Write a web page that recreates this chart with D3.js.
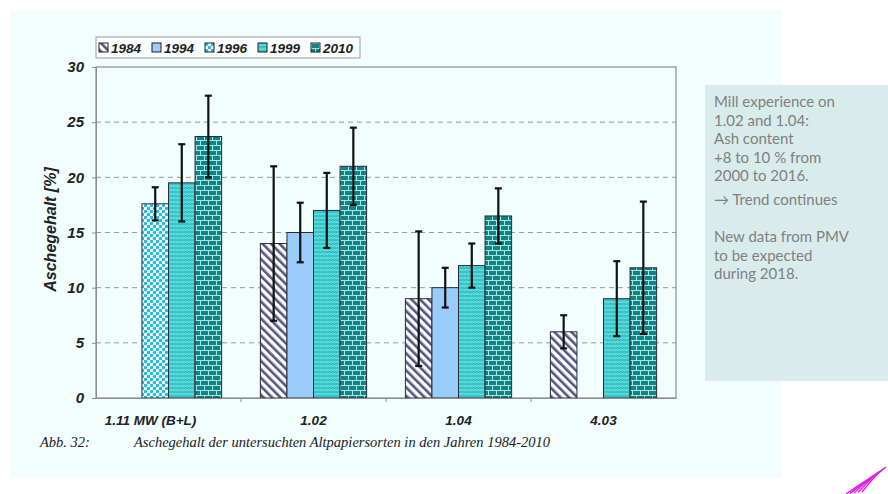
<!DOCTYPE html>
<html>
<head>
<meta charset="utf-8">
<script src="https://cdn.jsdelivr.net/npm/d3@7"></script>
<style>
  html, body { margin: 0; padding: 0; background: #ffffff; }
  svg { display: block; }
</style>
</head>
<body>
<div id="wrapper"></div>
<script>
// data
const categories = ["1.11 MW (B+L)", "1.02", "1.04", "4.03"];
const years = ["1984", "1994", "1996", "1999", "2010"];
// slot within each group (1994 and 1996 share the 2nd slot)
const yearSlot = { "1984": 0, "1994": 1, "1996": 1, "1999": 2, "2010": 3 };

const values1984 = [null, 14, 9, 6];
const values1994 = [null, 15, 10, null];
const values1996 = [17.6, null, null, null];
const values1999 = [19.5, 17, 12, 9];
const values2010 = [23.7, 21, 16.5, 11.8];

const err1984 = [null, 7, 6.1, 1.5];
const err1994 = [null, 2.7, 1.8, null];
const err1996 = [1.5, null, null, null];
const err1999 = [3.5, 3.4, 2, 3.4];
const err2010 = [3.7, 3.5, 2.5, 6];

const yTicks = [0, 5, 10, 15, 20, 25, 30];

const noteLines = [
  "Mill experience on", "1.02 and 1.04:", "Ash content", "+8 to 10 % from",
  "2000 to 2016.", "\u2192  Trend continues", "", "New data from PMV",
  "to be expected", "during 2018."
];

const seriesValues = [values1984, values1994, values1996, values1999, values2010];
const seriesErr = [err1984, err1994, err1996, err1999, err2010];

const dataset = [];
years.forEach((y, i) => {
  categories.forEach((c, j) => {
    if (seriesValues[i][j] != null) {
      dataset.push({ year: y, cat: c, value: seriesValues[i][j], err: seriesErr[i][j] });
    }
  });
});

const width = 888, height = 494;
const plot = { left: 96, right: 676, top: 67, bottom: 398 };
const arial = "'Liberation Sans', Arial, sans-serif";

const svg = d3.select("#wrapper").append("svg")
  .attr("width", width).attr("height", height);

// background panel
svg.append("rect").attr("x", 11).attr("y", 10).attr("width", 771).attr("height", 468)
  .attr("fill", "#f2fdfd");

// patterns
const defs = svg.append("defs");

const p84 = defs.append("pattern").attr("id", "p1984").attr("patternUnits", "userSpaceOnUse")
  .attr("width", 6).attr("height", 6).attr("patternTransform", "rotate(-45)");
p84.append("rect").attr("width", 6).attr("height", 6).attr("fill", "#ffffff");
p84.append("rect").attr("width", 2.6).attr("height", 6).attr("fill", "#545482");

const p94 = defs.append("pattern").attr("id", "p1994").attr("patternUnits", "userSpaceOnUse")
  .attr("width", 4).attr("height", 4);
p94.append("rect").attr("width", 4).attr("height", 4).attr("fill", "#99ccf8");

const p96 = defs.append("pattern").attr("id", "p1996").attr("patternUnits", "userSpaceOnUse")
  .attr("width", 6).attr("height", 6);
p96.append("rect").attr("width", 6).attr("height", 6).attr("fill", "#ffffff");
p96.append("circle").attr("cx", 1.5).attr("cy", 1.5).attr("r", 1.8).attr("fill", "#22bde0");
p96.append("circle").attr("cx", 4.5).attr("cy", 4.5).attr("r", 1.8).attr("fill", "#22bde0");

const p99 = defs.append("pattern").attr("id", "p1999").attr("patternUnits", "userSpaceOnUse")
  .attr("width", 6).attr("height", 4);
p99.append("rect").attr("width", 6).attr("height", 4).attr("fill", "#33c6c8");
p99.append("path").attr("d", "M0,3 L1.5,1 L3,3 L4.5,1 L6,3")
  .attr("fill", "none").attr("stroke", "#86e2e2").attr("stroke-width", 0.9);

const p10 = defs.append("pattern").attr("id", "p2010").attr("patternUnits", "userSpaceOnUse")
  .attr("width", 8).attr("height", 10);
p10.append("rect").attr("width", 8).attr("height", 10).attr("fill", "#0e8585");
p10.append("path")
  .attr("d", "M0,0.5 H8 M0,5.5 H8 M0.5,0.5 V5.5 M4.5,5.5 V10")
  .attr("fill", "none").attr("stroke", "#a8e6e6").attr("stroke-width", 1);

// scales
const xScale = d3.scaleBand().domain(categories).range([plot.left, plot.right]);
const slotScale = d3.scaleBand().domain([0, 1, 2, 3]).range([0, xScale.bandwidth()])
  .paddingInner(0).paddingOuter(0.73);
const yScale = d3.scaleLinear().domain([0, 30]).range([plot.bottom, plot.top]);

// gridlines
svg.append("g").selectAll("line").data(yTicks.filter(t => t > 0 && t < 30)).join("line")
  .attr("x1", plot.left).attr("x2", plot.right)
  .attr("y1", d => yScale(d)).attr("y2", d => yScale(d))
  .attr("stroke", "#9a9a9a").attr("stroke-dasharray", "5,4").attr("stroke-width", 1);

// frame
svg.append("rect").attr("x", plot.left).attr("y", plot.top)
  .attr("width", plot.right - plot.left).attr("height", plot.bottom - plot.top)
  .attr("fill", "none").attr("stroke", "#8c8c8c").attr("stroke-width", 1.2);

// bars
svg.append("g").selectAll("rect").data(dataset).join("rect")
  .attr("x", d => xScale(d.cat) + slotScale(yearSlot[d.year]))
  .attr("y", d => yScale(d.value))
  .attr("width", slotScale.bandwidth())
  .attr("height", d => plot.bottom - yScale(d.value))
  .attr("fill", d => `url(#p${d.year})`)
  .attr("stroke", "#2a2a3a").attr("stroke-width", 1);

// error bars
const errG = svg.append("g").selectAll("g").data(dataset).join("g")
  .attr("transform", d => `translate(${xScale(d.cat) + slotScale(yearSlot[d.year]) + slotScale.bandwidth() / 2},0)`)
  .attr("stroke", "#111").attr("stroke-width", 2.2);
errG.append("line")
  .attr("y1", d => yScale(d.value + d.err)).attr("y2", d => yScale(d.value - d.err));
errG.append("line").attr("x1", -3.5).attr("x2", 3.5)
  .attr("y1", d => yScale(d.value + d.err)).attr("y2", d => yScale(d.value + d.err));
errG.append("line").attr("x1", -3.5).attr("x2", 3.5)
  .attr("y1", d => yScale(d.value - d.err)).attr("y2", d => yScale(d.value - d.err));

// y axis
const yAxis = svg.append("g").attr("transform", `translate(${plot.left},0)`)
  .call(d3.axisLeft(yScale).tickValues(yTicks).tickSize(4).tickPadding(8));
yAxis.select(".domain").attr("stroke", "#8c8c8c");
yAxis.selectAll(".tick line").attr("stroke", "#8c8c8c");
yAxis.selectAll(".tick text")
  .style("font-family", arial)
  .style("font-size", "15px").style("font-weight", "bold").style("font-style", "italic")
  .attr("fill", "#222");

svg.append("text")
  .attr("transform", `translate(56,${(plot.top + plot.bottom) / 2 - 3}) rotate(-90)`)
  .attr("text-anchor", "middle")
  .style("font-family", arial)
  .style("font-size", "16px").style("font-weight", "bold").style("font-style", "italic")
  .attr("fill", "#222")
  .text("Aschegehalt [%]");

// x axis
const xAxis = svg.append("g").attr("transform", `translate(0,${plot.bottom})`)
  .call(d3.axisBottom(xScale).tickSize(0).tickPadding(17));
xAxis.select(".domain").attr("stroke", "#8c8c8c");
xAxis.selectAll(".tick text")
  .style("font-family", arial)
  .style("font-size", "13.5px").style("font-weight", "bold").style("font-style", "italic")
  .attr("fill", "#222")
  .attr("dx", (d, i) => (i === 0 ? -18 : 0));
// group separator ticks
svg.append("g").selectAll("line").data(categories.slice(1)).join("line")
  .attr("x1", d => xScale(d)).attr("x2", d => xScale(d))
  .attr("y1", plot.bottom).attr("y2", plot.bottom + 4)
  .attr("stroke", "#8c8c8c");

// legend
const legend = svg.append("g");
legend.append("rect").attr("x", 96).attr("y", 37).attr("width", 264).attr("height", 21)
  .attr("fill", "#fafefe").attr("stroke", "#9a9a9a");
const legItems = legend.selectAll("g").data(years).join("g")
  .attr("transform", (d, i) => `translate(${99 + i * 53},43)`);
legItems.append("rect").attr("width", 9).attr("height", 9)
  .attr("fill", d => `url(#p${d})`).attr("stroke", "#222").attr("stroke-width", 1);
legItems.append("text").attr("x", 12).attr("y", 9.5)
  .style("font-family", arial)
  .style("font-size", "13.5px").style("font-weight", "bold").style("font-style", "italic")
  .attr("fill", "#222")
  .text(d => d);

// caption
const caption = svg.append("g")
  .style("font-family", "'Liberation Serif', 'Times New Roman', serif")
  .style("font-size", "14.5px").style("font-style", "italic").attr("fill", "#222");
caption.append("text").attr("x", 40).attr("y", 447).text("Abb. 32:");
caption.append("text").attr("x", 134).attr("y", 447)
  .text("Aschegehalt der untersuchten Altpapiersorten in den Jahren 1984-2010");

// note box
svg.append("rect").attr("x", 705).attr("y", 85).attr("width", 183).attr("height", 296)
  .attr("fill", "#d9ecec");
svg.append("g").selectAll("text").data(noteLines).join("text")
  .attr("x", 714).attr("y", (d, i) => 107 + i * 18.6 + (i >= 5 ? 5 : 0))
  .style("font-family", "Lato, 'Open Sans', sans-serif")
  .style("font-size", "15px").attr("fill", "#808080")
  .text(d => d);

// logo swooshes bottom right
const logo = svg.append("g").attr("fill", "none").attr("stroke", "#e020e0").attr("stroke-width", 1.5);
[0, 1, 2, 3, 4].forEach(k => {
  logo.append("path")
    .attr("d", `M${846 + k * 4},${494 - k * 0.5} Q${864 + k * 3},${482 - k * 2} ${878 + k * 2},${473 - k * 1.5}`);
});
</script>
</body>
</html>
